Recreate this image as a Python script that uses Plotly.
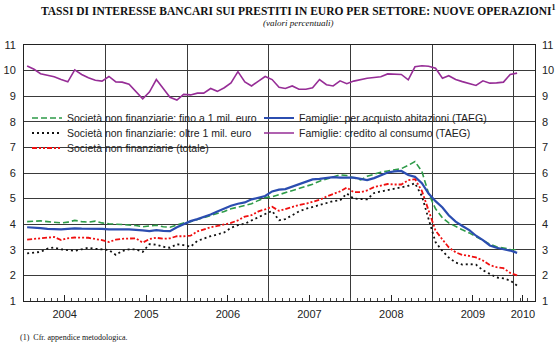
import pandas as pd
import plotly.graph_objects as go

# Monthly observations, Jan 2004 - Jan 2010 (plotted at mid-month)
dates = pd.date_range("2004-01-01", "2010-01-01", freq="MS") + pd.Timedelta(days=14)

nf_small = [4.10, 4.12, 4.13, 4.10, 4.08, 4.05, 4.08, 4.15, 4.10, 4.08, 4.12, 4.05,
            4.02, 4.00, 3.97, 3.96, 3.95, 3.90, 3.93, 3.96, 3.90, 3.88, 3.97, 4.05,
            4.10, 4.18, 4.26, 4.33, 4.42, 4.50, 4.60, 4.66, 4.72, 4.80, 4.93, 5.04,
            5.07, 5.15, 5.22, 5.30, 5.38, 5.47, 5.56, 5.68, 5.76, 5.84, 5.93, 5.90,
            5.80, 5.73, 5.87, 5.96, 6.03, 6.08, 6.12, 6.17, 6.30, 6.45, 6.06, 5.20,
            4.60, 4.25, 4.05, 3.90, 3.78, 3.66, 3.52, 3.38, 3.22, 3.12, 3.06, 3.02,
            3.00]
nf_large = [2.86, 2.88, 2.92, 3.05, 3.09, 3.02, 3.00, 2.96, 3.02, 3.08, 3.04, 3.02,
            2.99, 2.80, 2.95, 3.02, 3.02, 2.92, 3.22, 3.20, 3.12, 3.08, 3.22, 3.18,
            3.12, 3.35, 3.45, 3.53, 3.60, 3.68, 3.86, 3.96, 4.02, 4.15, 4.30, 4.40,
            4.52, 4.15, 4.20, 4.35, 4.50, 4.60, 4.68, 4.75, 4.85, 4.90, 4.93, 5.20,
            5.00, 4.97, 4.97, 5.22, 5.27, 5.32, 5.38, 5.45, 5.50, 5.60, 5.10, 4.20,
            3.30, 2.95, 2.70, 2.50, 2.42, 2.44, 2.42, 2.20, 2.05, 1.92, 1.88, 1.80,
            1.60]
nf_total = [3.40, 3.42, 3.44, 3.48, 3.50, 3.38, 3.45, 3.48, 3.48, 3.47, 3.42, 3.38,
            3.30, 3.40, 3.43, 3.45, 3.45, 3.28, 3.42, 3.47, 3.43, 3.45, 3.53, 3.53,
            3.55, 3.72, 3.80, 3.88, 3.93, 3.98, 4.05, 4.15, 4.30, 4.35, 4.50, 4.58,
            4.68, 4.52, 4.60, 4.68, 4.75, 4.80, 4.88, 4.95, 5.08, 5.18, 5.28, 5.43,
            5.25, 5.25, 5.32, 5.45, 5.52, 5.57, 5.55, 5.55, 5.72, 5.76, 5.30, 4.50,
            3.75, 3.40, 3.10, 2.90, 2.80, 2.76, 2.70, 2.58, 2.40, 2.32, 2.28, 2.10,
            2.00]
hh_house = [3.88, 3.87, 3.85, 3.82, 3.80, 3.80, 3.82, 3.84, 3.83, 3.83, 3.83, 3.82,
            3.80, 3.81, 3.80, 3.80, 3.79, 3.76, 3.73, 3.77, 3.74, 3.73, 3.88, 4.00,
            4.12, 4.20, 4.28, 4.38, 4.50, 4.62, 4.72, 4.80, 4.85, 4.97, 5.05, 5.10,
            5.28, 5.35, 5.37, 5.47, 5.57, 5.68, 5.75, 5.77, 5.80, 5.84, 5.82, 5.83,
            5.82, 5.77, 5.72, 5.80, 5.90, 6.02, 6.06, 6.08, 5.92, 5.85, 5.60, 5.20,
            4.90, 4.65, 4.35, 4.10, 3.93, 3.77, 3.55, 3.38, 3.17, 3.08, 3.02, 2.97,
            2.88]
hh_consumer = [10.18, 10.05, 9.88, 9.82, 9.76, 9.65, 9.56, 10.03, 9.85, 9.72, 9.62, 9.59,
               9.77, 9.56, 9.55, 9.47, 9.20, 8.90, 9.16, 9.65, 9.30, 8.96, 8.85, 9.07,
               9.05, 9.12, 9.12, 9.30, 9.19, 9.33, 9.52, 9.96, 9.56, 9.40, 9.59, 9.77,
               9.65, 9.35, 9.30, 9.40, 9.27, 9.27, 9.33, 9.65, 9.45, 9.40, 9.60, 9.49,
               9.59, 9.65, 9.70, 9.73, 9.76, 9.87, 9.87, 9.85, 9.64, 10.15, 10.19, 10.17,
               10.09, 9.70, 9.80, 9.65, 9.57, 9.50, 9.42, 9.60, 9.51, 9.52, 9.55, 9.85,
               9.90]

names = ["Società non finanziarie: fino a 1 mil. euro",
         "Famiglie: per acquisto abitazioni (TAEG)",
         "Società non finanziarie: oltre 1 mil. euro",
         "Famiglie: credito al consumo (TAEG)",
         "Società non finanziarie (totale)"]
year_labels = ["2004", "2005", "2006", "2007", "2008", "2009", "2010"]
year_label_pos = ["2004-07-01", "2005-07-01", "2006-07-01", "2007-07-01",
                  "2008-07-01", "2009-07-01", "2010-02-10"]

SANS = "Liberation Sans, Arial, sans-serif"
SERIF = "Liberation Serif, Times New Roman, serif"

series = [
    (nf_small, names[0], dict(color="#2E9B48", width=1.6, dash="6px,3px"), "legend"),
    (hh_house, names[1], dict(color="#2B4DB0", width=2.2), "legend2"),
    (nf_large, names[2], dict(color="#111111", width=1.8, dash="2px,3px"), "legend3"),
    (hh_consumer, names[3], dict(color="#962D96", width=1.6), "legend4"),
    (nf_total, names[4], dict(color="#F01010", width=1.8, dash="5px,2px,2px,2px,2px,2px"), "legend5"),
]

fig = go.Figure()
for vals, nm, ln, lg in series:
    fig.add_trace(go.Scatter(x=dates, y=vals, name=nm, mode="lines", line=ln,
                             legend=lg, hoverinfo="skip"))

# invisible trace to activate the overlay axes (year gridlines, right labels)
fig.add_trace(go.Scatter(x=dates[:1], y=[None], xaxis="x2", yaxis="y2",
                         showlegend=False, hoverinfo="skip"))

W, H = 560, 347
ML, MR, MT, MB = 24, 25, 45, 46
PW, PH = W - ML - MR, H - MT - MB

def px_x(x):
    return (x - ML) / PW

def px_y(y):
    return (H - MB - y) / PH

XR = ["2004-01-01", "2010-04-05"]
leg_common = dict(bgcolor="rgba(0,0,0,0)", borderwidth=0, yanchor="top",
                  xanchor="left", font=dict(family=SANS, size=10.5, color="#222"),
                  itemwidth=30, yref="container", xref="container")
legend_pos = {"legend": (27, 116), "legend2": (259, 116),
              "legend3": (27, 131), "legend4": (259, 131),
              "legend5": (27, 146)}

layout = dict(
    width=W, height=H,
    margin=dict(l=ML, r=MR, t=MT, b=MB, autoexpand=False),
    paper_bgcolor="white", plot_bgcolor="white",
    showlegend=True,
    xaxis=dict(type="date", range=XR,
               tickmode="array", tickvals=year_label_pos, ticktext=year_labels,
               showgrid=False,
               ticks="inside", ticklen=6, tickcolor="#222",
               minor=dict(tickmode="linear", tick0="2004-01-01", dtick="M1",
                          ticks="inside", ticklen=3, tickcolor="#444",
                          showgrid=False),
               showline=True, linecolor="#222", linewidth=1, mirror=True,
               tickfont=dict(family=SANS, size=11, color="#222"),
               ticklabelstandoff=3, zeroline=False, automargin=False),
    xaxis2=dict(type="date", range=XR, overlaying="x", matches="x",
                tick0="2004-01-01", dtick="M12", showgrid=True,
                gridcolor="#3a3a3a", gridwidth=1, showticklabels=False,
                ticks="", zeroline=False, showline=False),
    yaxis=dict(range=[1, 11], dtick=1, showgrid=True, gridcolor="#3a3a3a",
               gridwidth=1, showline=True, linecolor="#222", linewidth=1,
               mirror=True, ticks="", zeroline=False, automargin=False,
               tickfont=dict(family=SANS, size=11, color="#222"),
               ticklabelstandoff=5),
    yaxis2=dict(range=[1, 11], dtick=1, overlaying="y", side="right",
                showgrid=False, zeroline=False, ticks="", automargin=False,
                tickfont=dict(family=SANS, size=11, color="#222"),
                ticklabelstandoff=6),
    shapes=[dict(type="rect", xref="paper", yref="paper",
                 x0=px_x(35), x1=px_x(489), y0=px_y(156), y1=px_y(106),
                 fillcolor="white", line=dict(width=0), layer="between")],
    annotations=[
        dict(text="<b>TASSI DI INTERESSE BANCARI SUI PRESTITI IN EURO PER SETTORE: NUOVE OPERAZIONI<sup>1</sup></b>",
             xref="paper", yref="paper", x=px_x(298), y=px_y(10), xanchor="center",
             yanchor="middle", showarrow=False,
             font=dict(family=SERIF, size=11.5, color="#111")),
        dict(text="<i>(valori percentuali)</i>",
             xref="paper", yref="paper", x=px_x(298), y=px_y(23), xanchor="center",
             yanchor="middle", showarrow=False,
             font=dict(family=SERIF, size=9, color="#111")),
        dict(text="(1)  Cfr. appendice metodologica.",
             xref="paper", yref="paper", x=px_x(18), y=px_y(337), xanchor="left",
             yanchor="middle", showarrow=False,
             font=dict(family=SERIF, size=8, color="#111")),
    ],
)
# container coordinates: fraction of the whole 560x347 page
for key, (lx, ly) in legend_pos.items():
    layout[key] = dict(leg_common, x=lx / W, y=1 - (ly - 12.5) / H)

fig.update_layout(**layout)
fig.write_html("out.html")
